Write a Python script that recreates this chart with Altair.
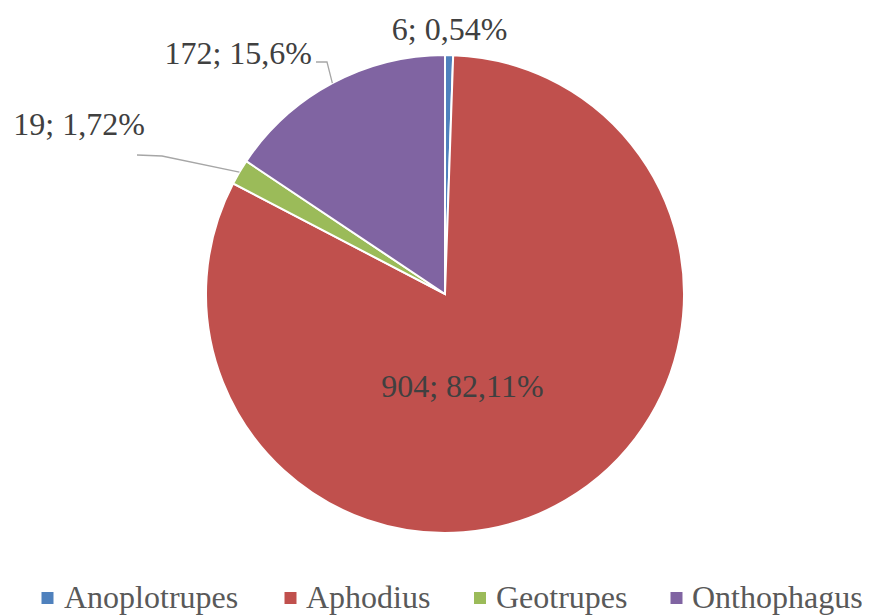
import math
import altair as alt
import pandas as pd

# ---- data ----
categories = ["Anoplotrupes", "Aphodius", "Geotrupes", "Onthophagus"]
counts = [6, 904, 19, 172]
pct_labels = ["0,54%", "82,11%", "1,72%", "15,6%"]
colors = ["#4F81BD", "#C0504D", "#9BBB59", "#8064A2"]

total = sum(counts)
starts, ends, mids = [], [], []
acc = 0
for c in counts:
    starts.append(acc)
    mids.append(acc + c / 2)
    acc += c
    ends.append(acc)

df = pd.DataFrame({
    "category": categories,
    "count": counts,
    "start": starts,
    "end": ends,
    "mid": mids,
    "label": [f"{c}; {p}" for c, p in zip(counts, pct_labels)],
})

# ---- layout ----
W, H = 854, 607
CX, CY = 437, 286
R = 239
FONT = "Liberation Serif"

color_scale = alt.Scale(domain=categories, range=colors)
theta_scale = alt.Scale(domain=[0, total], range=[0, 2 * math.pi])

pie = alt.Chart(df).mark_arc(outerRadius=R, stroke="white", strokeWidth=2).encode(
    theta=alt.Theta("start:Q", scale=theta_scale),
    theta2="end:Q",
    color=alt.Color("category:N", scale=color_scale, legend=None),
    x=alt.value(CX),
    y=alt.value(CY),
)

# label placement: (category, radius, dx, dy, align)
label_layout = [
    ("Anoplotrupes", 264, 0, 0, "center"),
    ("Aphodius", 100, -33, 7, "center"),
    ("Geotrupes", 300, -42, -16, "right"),
    ("Onthophagus", 280, -1, 7, "right"),
]

layers = [pie]
for cat, r, dx, dy, align in label_layout:
    layers.append(
        alt.Chart(df).transform_filter(alt.datum.category == cat).mark_text(
            radius=r, dx=dx, dy=dy, align=align, baseline="middle",
            font=FONT, fontSize=32, color="#404040",
        ).encode(
            theta=alt.Theta("mid:Q", scale=theta_scale),
            text="label:N",
            x=alt.value(CX),
            y=alt.value(CY),
        )
    )

# leader lines: slice edge (from data) -> elbow -> label end
leader_layout = {
    "Geotrupes": [(154, 148), (129, 147)],
    "Onthophagus": [(319, 54), (308, 54)],
}
rows = []
for cat, pts in leader_layout.items():
    i = categories.index(cat)
    a = mids[i] / total * 2 * math.pi
    ex = CX + R * math.sin(a)
    ey = CY - R * math.cos(a)
    seq = [(ex, ey)] + pts
    for k, (px, py) in enumerate(seq):
        rows.append({"seg": cat, "o": k, "x": px, "y": py})
lines_df = pd.DataFrame(rows)

leaders = alt.Chart(lines_df).mark_line(color="#A6A6A6", strokeWidth=1.3).encode(
    x=alt.X("x:Q", scale=None, axis=None),
    y=alt.Y("y:Q", scale=None, axis=None),
    detail="seg:N",
    order="o:Q",
)
layers.append(leaders)

# legend (drawn as marks): symbol centre x and label start x per entry
legend_symbol_x = [39.5, 282.5, 472, 668.5]
legend_text_x = [56, 298, 488, 684]
leg_df = pd.DataFrame({"category": categories, "sx": legend_symbol_x, "tx": legend_text_x})

leg_sym = alt.Chart(leg_df).mark_square(size=144, opacity=1).encode(
    x=alt.X("sx:Q", scale=None, axis=None),
    y=alt.value(590),
    color=alt.Color("category:N", scale=color_scale, legend=None),
)
leg_txt = alt.Chart(leg_df).mark_text(
    align="left", baseline="alphabetic", font=FONT, fontSize=32, color="#595959",
).encode(
    x=alt.X("tx:Q", scale=None, axis=None),
    y=alt.value(600),
    text="category:N",
)
layers += [leg_sym, leg_txt]

chart = alt.layer(*layers).properties(
    width=W, height=H, autosize=alt.AutoSizeParams(type="none"), padding=0,
    background="white",
).configure_view(strokeWidth=0)

chart.save("out.html", embed_options={"renderer": "svg", "actions": False})
